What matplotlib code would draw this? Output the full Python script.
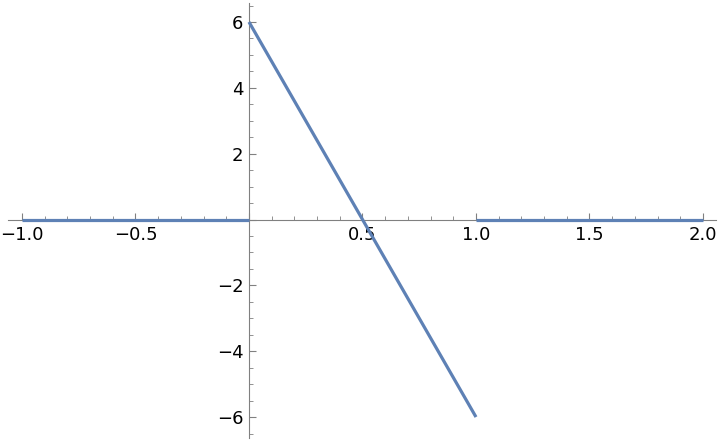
import matplotlib
matplotlib.use("Agg")
import matplotlib.pyplot as plt
from matplotlib.ticker import MultipleLocator, FuncFormatter

# Piecewise segments (x, y)
seg1_x = [-1.0, 0.0]
seg1_y = [0.0, 0.0]
seg2_x = [0.0, 1.0]
seg2_y = [6.0, -6.0]
seg3_x = [1.0, 2.0]
seg3_y = [0.0, 0.0]

color = "#5E81B5"
axis_color = "#808080"

fig = plt.figure(figsize=(7.2, 4.42), dpi=100)
ax = fig.add_axes([0, 0, 1, 1])
ax.set_xlim(-1.0969, 2.0749)
ax.set_ylim(-6.758, 6.668)

for xs, ys in [(seg1_x, seg1_y), (seg2_x, seg2_y), (seg3_x, seg3_y)]:
    ax.plot(xs, ys, color=color, lw=2.3, solid_capstyle="butt", zorder=5, clip_on=False)

for s in ["top", "right"]:
    ax.spines[s].set_visible(False)
ax.spines["bottom"].set_position(("data", 0))
ax.spines["left"].set_position(("data", 0))
ax.spines["bottom"].set_bounds(-1.06, 2.057)
ax.spines["left"].set_bounds(-6.64, 6.58)
for s in ["bottom", "left"]:
    ax.spines[s].set_color(axis_color)
    ax.spines[s].set_linewidth(0.8)

ax.xaxis.set_major_locator(MultipleLocator(0.5))
ax.xaxis.set_minor_locator(MultipleLocator(0.1))
ax.yaxis.set_major_locator(MultipleLocator(2))
ax.yaxis.set_minor_locator(MultipleLocator(0.5))

def fmt_x(v, pos):
    if abs(v) < 1e-9:
        return ""
    return f"{v:.1f}".replace("-", "\u2212")

def fmt_y(v, pos):
    if abs(v) < 1e-9:
        return ""
    return f"{int(round(v))}".replace("-", "\u2212")

ax.xaxis.set_major_formatter(FuncFormatter(fmt_x))
ax.yaxis.set_major_formatter(FuncFormatter(fmt_y))

ax.tick_params(axis="both", which="major", direction="in", length=5, width=0.8,
               color=axis_color, labelsize=13, labelcolor="black")
ax.tick_params(axis="both", which="minor", direction="in", length=3, width=0.6,
               color=axis_color)
ax.tick_params(axis="x", which="major", pad=5)
ax.tick_params(axis="y", which="major", pad=4)

fig.savefig("out.png", dpi=100)
